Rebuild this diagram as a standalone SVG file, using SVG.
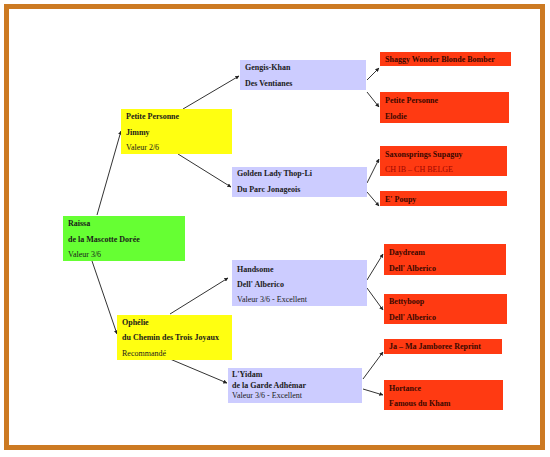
<svg xmlns="http://www.w3.org/2000/svg" width="550" height="457" viewBox="0 0 550 457">
<defs>
<marker id="ah" viewBox="0 0 6 6" refX="5.5" refY="3" markerWidth="4" markerHeight="4" orient="auto" markerUnits="userSpaceOnUse">
<path d="M0,0 L6,3 L0,6 z" fill="#222"/>
</marker>
<style>
text{font-family:"Liberation Serif","Times New Roman",serif;font-size:8px;fill:#1a1a1a}
.b{font-weight:bold}
.g{fill:#66ff33}
.y{fill:#ffff11}
.l{fill:#ccccff}
.r{fill:#ff3a12}
.r text{fill:#3a0800}
.cn line{stroke:#333;stroke-width:1;marker-end:url(#ah)}
</style>
</defs>
<rect x="0" y="0" width="550" height="457" fill="#fff"/>
<rect x="6.5" y="6.5" width="536" height="441" fill="#fff" stroke="#cc7a22" stroke-width="5"/>

<g class="cn" id="connectors">
<line x1="97" y1="215" x2="121" y2="131"/>
<line x1="92" y1="261" x2="117" y2="334"/>
<line x1="183" y1="109" x2="239" y2="76"/>
<line x1="178" y1="154" x2="231" y2="187"/>
<line x1="170" y1="314" x2="228" y2="278"/>
<line x1="170" y1="359" x2="227" y2="383"/>
<line x1="367" y1="80" x2="379" y2="68"/>
<line x1="367" y1="92" x2="379" y2="107"/>
<line x1="367" y1="183" x2="379" y2="159"/>
<line x1="367" y1="192" x2="379" y2="206"/>
<line x1="367" y1="280" x2="383" y2="254"/>
<line x1="367" y1="288" x2="383" y2="310"/>
<line x1="363" y1="379" x2="383" y2="352"/>
<line x1="363" y1="389" x2="383" y2="395"/>
</g>

<g id="raissa"><rect class="g" x="63" y="216" width="122" height="45"/>
<text x="68" y="226" class="b">Raissa</text>
<text x="68" y="242" class="b">de la Mascotte Dorée</text>
<text x="68" y="257">Valeur 3/6</text></g>

<g id="petite-personne-jimmy"><rect class="y" x="121" y="109" width="111" height="45"/>
<text x="126" y="119" class="b">Petite Personne</text>
<text x="126" y="135" class="b">Jimmy</text>
<text x="126" y="150">Valeur 2/6</text></g>

<g id="ophelie"><rect class="y" x="117" y="315" width="115" height="45"/>
<text x="122" y="325" class="b">Ophélie</text>
<text x="122" y="340" class="b">du Chemin des Trois Joyaux</text>
<text x="122" y="356">Recommandé</text></g>

<g id="gengis-khan"><rect class="l" x="240" y="60" width="126" height="30"/>
<text x="245" y="70" class="b">Gengis-Khan</text>
<text x="245" y="86" class="b">Des Ventianes</text></g>

<g id="golden-lady"><rect class="l" x="232" y="167" width="135" height="30"/>
<text x="237" y="176" class="b">Golden Lady Thop-Li</text>
<text x="237" y="192" class="b">Du Parc Jonageois</text></g>

<g id="handsome"><rect class="l" x="232" y="260" width="135" height="46"/>
<text x="237" y="272" class="b">Handsome</text>
<text x="237" y="287" class="b">Dell' Alberico</text>
<text x="237" y="302">Valeur 3/6 - Excellent</text></g>

<g id="lyidam"><rect class="l" x="228" y="368" width="134" height="35"/>
<text x="232" y="377" class="b">L'Yidam</text>
<text x="232" y="388" class="b">de la Garde Adhémar</text>
<text x="232" y="398">Valeur 3/6 - Excellent</text></g>

<g id="shaggy" class="r"><rect x="380" y="52" width="131" height="14"/>
<text x="385" y="62" class="b">Shaggy Wonder Blonde Bomber</text></g>

<g id="petite-personne-elodie" class="r"><rect x="380" y="92" width="129" height="31"/>
<text x="385" y="103" class="b">Petite Personne</text>
<text x="385" y="119" class="b">Elodie</text></g>

<g id="saxonsprings" class="r"><rect x="380" y="146" width="127" height="30"/>
<text x="385" y="157" class="b">Saxonsprings Supaguy</text>
<text x="385" y="172" style="fill:#a00800">CH IB – CH BELGE</text></g>

<g id="e-poupy" class="r"><rect x="380" y="191" width="127" height="15"/>
<text x="385" y="202" class="b">E' Poupy</text></g>

<g id="daydream" class="r"><rect x="384" y="244" width="122" height="31"/>
<text x="389" y="255" class="b">Daydream</text>
<text x="389" y="271" class="b">Dell' Alberico</text></g>

<g id="bettyboop" class="r"><rect x="384" y="294" width="123" height="30"/>
<text x="389" y="304" class="b">Bettyboop</text>
<text x="389" y="320" class="b">Dell' Alberico</text></g>

<g id="ja-ma" class="r"><rect x="384" y="339" width="118" height="15"/>
<text x="389" y="349" class="b">Ja – Ma Jamboree Reprint</text></g>

<g id="hortance" class="r"><rect x="384" y="380" width="119" height="30"/>
<text x="389" y="391" class="b">Hortance</text>
<text x="389" y="406" class="b">Famous du Kham</text></g>
</svg>
